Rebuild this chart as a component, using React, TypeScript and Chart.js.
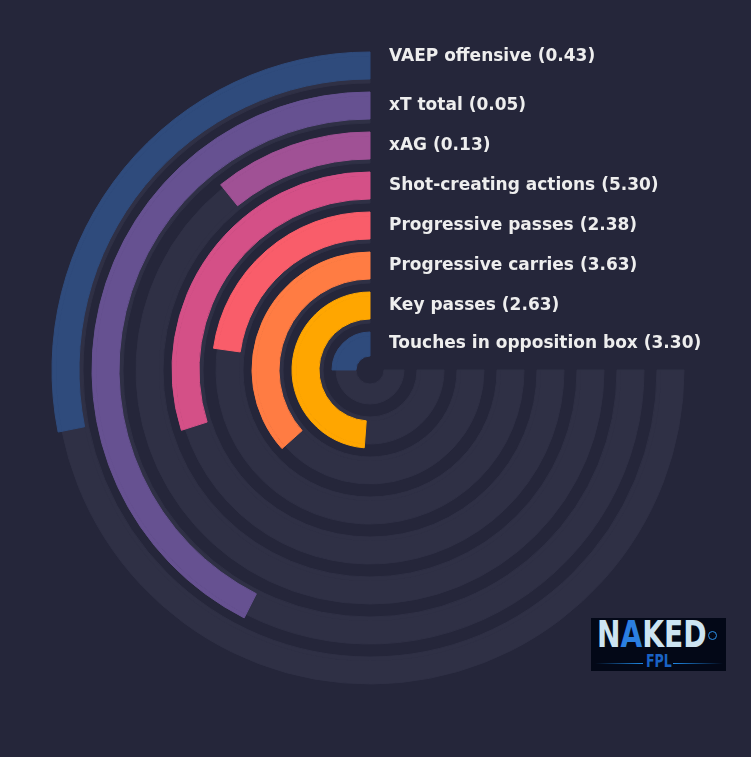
import React, { useEffect, useRef } from 'react';
import { Chart, ArcElement, DoughnutController } from 'chart.js';

Chart.register(ArcElement, DoughnutController);

// outermost ring first
const categories = [
  'VAEP offensive',
  'xT total',
  'xAG',
  'Shot-creating actions',
  'Progressive passes',
  'Progressive carries',
  'Key passes',
  'Touches in opposition box',
];
const perValues = [0.43, 0.05, 0.13, 5.30, 2.38, 3.63, 2.63, 3.30];
// share of the 270 degree track that is filled (percent)
const percentiles = [37.5, 56.7, 14.4, 39.9, 30.4, 48.8, 65.1, 33.3];
const barColors = ['#2f4b7c', '#665191', '#a05195', '#d45087', '#f95d6a', '#ff7c43', '#ffa600', '#2f4b7c'];

const BG = '#25263a';
const TRACK = '#2f3045';
const TEXT = '#eeeeee';
const CLEAR = 'rgba(0,0,0,0)';

// ring geometry, pixels
const OUTER = 318;
const STEP = 40;
const BAR = 27;
const LIP = 4;
const SHADE = 4;
const HOLE = 14;

const buildDatasets = () => {
  const datasets: any[] = [];
  const barIdx: number[] = [];
  categories.forEach((_, i) => {
    const out = OUTER - STEP * i;
    const last = i === categories.length - 1;
    const p = percentiles[i];
    const rest = 100 - p;
    const innerBar = Math.max(out - BAR, HOLE);
    // outer lip: bar only, track shifted inwards
    datasets.push({
      data: [rest, p],
      weight: LIP,
      backgroundColor: [CLEAR, barColors[i]],
      borderColor: [CLEAR, barColors[i]],
    });
    barIdx.push(datasets.length - 1);
    datasets.push({
      data: [rest, p],
      weight: out - LIP - innerBar,
      backgroundColor: [TRACK, barColors[i]],
      borderColor: [TRACK, barColors[i]],
    });
    if (!last) {
      datasets.push({ data: [1], weight: SHADE, backgroundColor: [TRACK], borderColor: [TRACK] });
      datasets.push({ data: [1], weight: STEP - BAR - SHADE, backgroundColor: [CLEAR], borderColor: [CLEAR] });
    }
  });
  return { datasets, barIdx };
};

const RadialBars: React.FC = () => {
  const chartRef = useRef<HTMLCanvasElement>(null);
  const chartInstance = useRef<Chart | null>(null);

  useEffect(() => {
    if (!chartRef.current) return;
    const ctx = chartRef.current.getContext('2d');
    if (!ctx) return;

    if (chartInstance.current) {
      chartInstance.current.destroy();
      chartInstance.current = null;
    }

    const { datasets, barIdx } = buildDatasets();

    const labelPlugin = {
      id: 'ringLabels',
      afterDatasetsDraw(chart: any) {
        const c = chart.ctx;
        c.save();
        c.font = 'bold 17px "DejaVu Sans"';
        c.fillStyle = TEXT;
        c.textBaseline = 'middle';
        c.textAlign = 'left';
        barIdx.forEach((di, i) => {
          const a: any = chart.getDatasetMeta(di).data[1];
          const b: any = chart.getDatasetMeta(di + 1).data[1];
          const mid = (a.outerRadius + b.innerRadius) / 2;
          const y = a.y - mid - (i === 0 ? 9 : 0);
          c.fillText(`${categories[i]} (${perValues[i].toFixed(2)})`, a.x + 19, y);
        });
        c.restore();
      },
    };

    chartInstance.current = new Chart(ctx, {
      type: 'doughnut',
      data: { labels: ['rest', 'value'], datasets },
      options: {
        responsive: false,
        animation: false,
        rotation: 90,
        circumference: 270,
        cutout: HOLE,
        borderWidth: 1,
        layout: { padding: { left: 51.5, top: 51.5, right: 62.5, bottom: 68.5 } },
        plugins: {
          legend: { display: false },
          tooltip: { enabled: false },
        },
        events: [],
      } as any,
      plugins: [labelPlugin],
    });

    return () => {
      if (chartInstance.current) {
        chartInstance.current.destroy();
        chartInstance.current = null;
      }
    };
  }, []);

  return <canvas ref={chartRef} width={751} height={757} style={{ position: 'absolute', left: 0, top: 0 }} />;
};

const Logo: React.FC = () => (
  <div style={{ position: 'absolute', left: 591, top: 618, width: 135, height: 53, background: '#030817', overflow: 'hidden' }}>
    <div
      style={{
        position: 'absolute',
        left: 6,
        top: -2,
        font: 'bold 37px "DejaVu Sans"',
        lineHeight: '37px',
        color: '#cde4f2',
        whiteSpace: 'nowrap',
        transform: 'scaleX(0.76)',
        transformOrigin: 'left top',
      }}
    >
      N<span style={{ color: '#2b7fe0' }}>A</span>KED
    </div>
    <div
      style={{
        position: 'absolute',
        left: 117,
        top: 13,
        width: 7,
        height: 7,
        borderRadius: '50%',
        border: '1px solid #2b8fe8',
      }}
    />
    <div style={{ position: 'absolute', left: 4, top: 45, width: 48, height: 1, background: 'linear-gradient(to right, rgba(30,136,229,0), #1e88e5)' }} />
    <div style={{ position: 'absolute', left: 82, top: 45, width: 50, height: 1, background: 'linear-gradient(to left, rgba(30,136,229,0), #1e88e5)' }} />
    <div
      style={{
        position: 'absolute',
        left: 55,
        top: 34,
        font: 'bold 18px "DejaVu Sans"',
        lineHeight: '18px',
        color: '#1a62c4',
        transform: 'scaleX(0.7)',
        transformOrigin: 'left top',
      }}
    >
      FPL
    </div>
  </div>
);

const App: React.FC = () => (
  <div style={{ position: 'fixed', left: 0, top: 0, width: 751, height: 757, background: BG, overflow: 'hidden' }}>
    <RadialBars />
    <Logo />
  </div>
);

export default App;
